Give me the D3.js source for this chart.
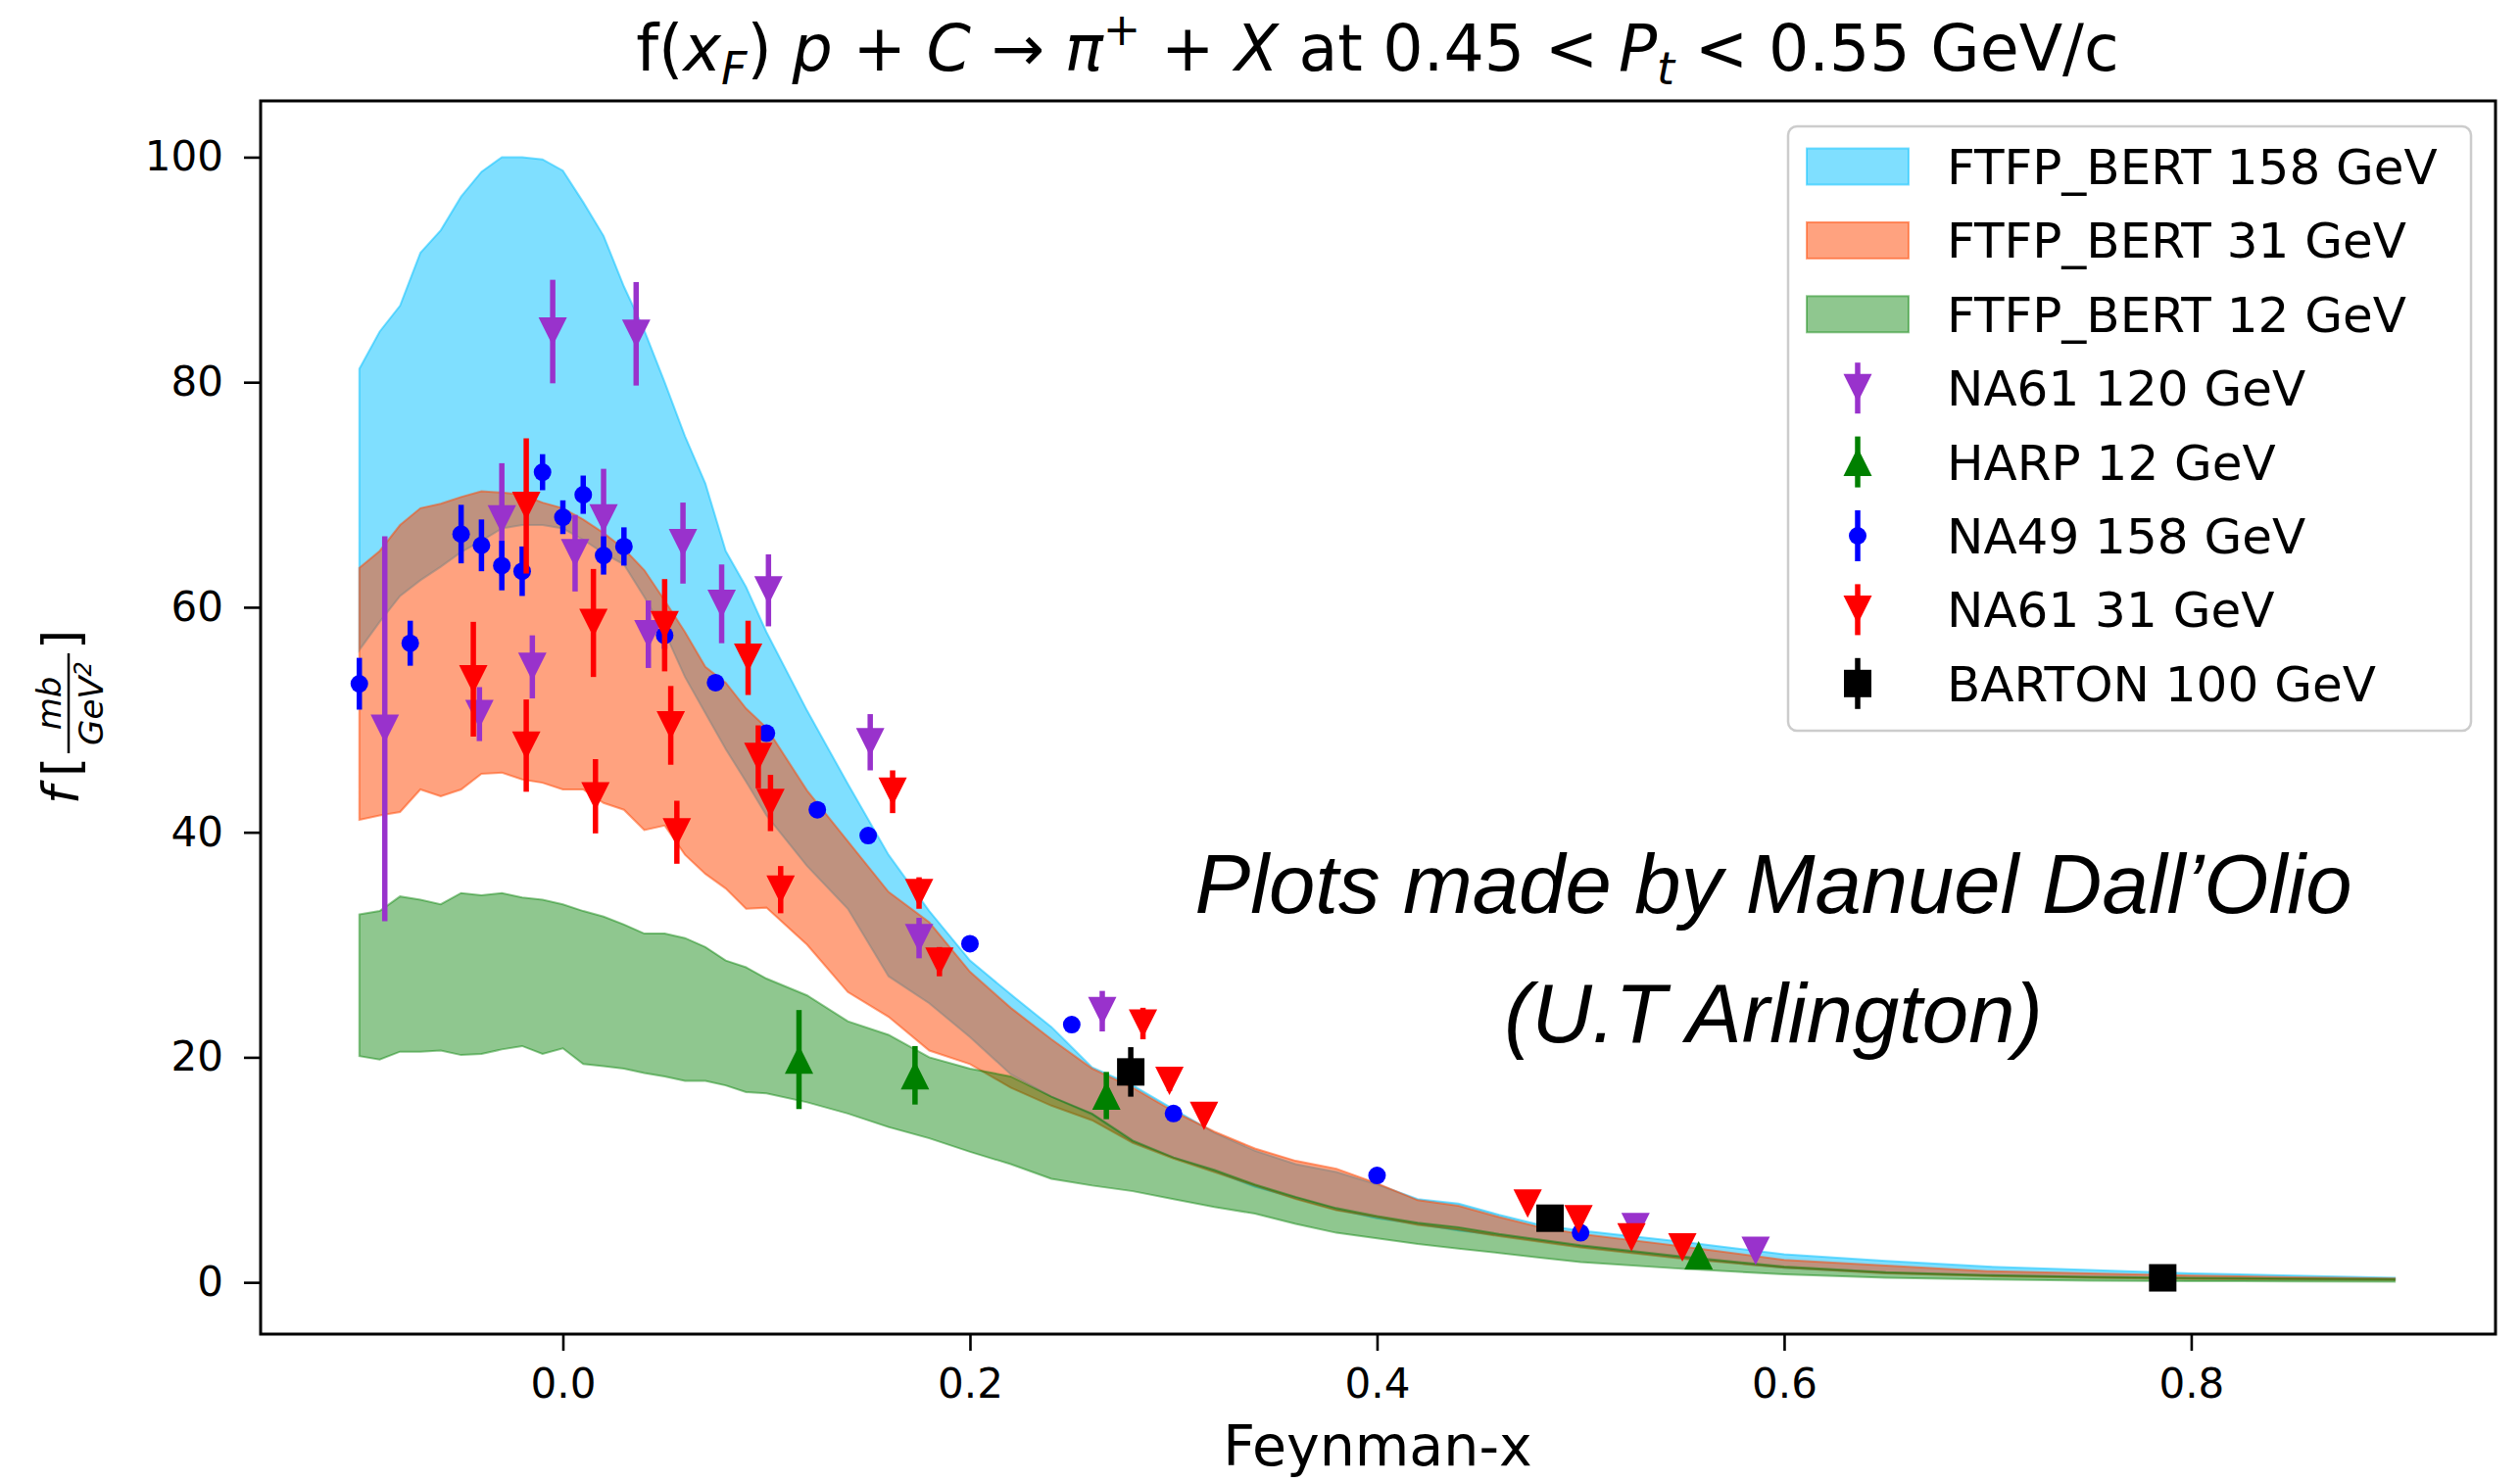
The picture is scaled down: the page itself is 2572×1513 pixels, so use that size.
<!DOCTYPE html>
<html><head><meta charset="utf-8">
<script src="https://cdn.jsdelivr.net/npm/d3@7"></script>
<style>
html,body{margin:0;padding:0;background:#fff;}
svg{display:block;font-family:"DejaVu Sans",sans-serif;}
</style></head><body>
<svg id="chart" width="2572" height="1513"></svg>
<script>
// ---------------- data ----------------
const bandX = [-0.10,-0.09,-0.08,-0.07,-0.06,-0.05,-0.04,-0.03,-0.02,-0.01,0.00,0.01,0.02,0.03,0.04,0.05,0.06,0.07,0.08,0.09,0.10,
  0.12,0.14,0.16,0.18,0.20,0.22,0.24,0.26,0.28,0.30,0.32,0.34,0.36,0.38,0.40,0.42,0.44,0.46,0.48,0.50,0.55,0.60,0.65,0.70,0.75,0.80,0.85,0.90];
const ftfp158Hi = [81.2,84.5,86.8,91.5,93.5,96.5,98.7,100.0,100.0,99.8,98.8,96.0,93.0,88.5,84.6,80.0,75.2,71.0,65.0,61.8,57.8,
  50.8,44.3,38.0,33.0,28.6,25.6,22.7,19.1,17.5,15.4,13.3,11.7,10.5,9.8,8.7,7.4,7.0,6.0,5.1,4.6,3.6,2.5,1.9,1.4,1.1,0.8,0.6,0.4];
const ftfp158Lo = [56.2,58.7,61.0,62.4,63.6,64.9,65.9,67.0,67.3,67.3,67.0,66.0,64.8,63.8,60.9,57.8,53.8,50.6,47.4,44.5,41.5,
  37.0,33.2,27.2,24.8,21.8,18.5,16.5,14.9,12.5,11.1,9.9,8.5,7.5,6.5,5.7,5.2,4.6,4.2,3.7,3.2,2.2,1.3,0.85,0.6,0.45,0.35,0.3,0.25];
const ftfp31Hi = [63.5,65.0,67.3,68.8,69.2,69.8,70.3,70.2,70.0,69.3,68.8,67.8,66.6,65.2,63.3,60.6,57.8,54.7,53.3,51.0,49.3,
  43.7,39.2,34.7,32.0,27.6,24.4,21.6,19.0,17.3,15.2,13.4,11.9,10.8,10.1,8.8,7.3,6.8,5.8,4.9,4.3,3.2,2.0,1.5,1.0,0.8,0.6,0.45,0.35];
const ftfp31Lo = [41.1,41.5,41.8,43.8,43.2,43.8,45.2,45.3,44.7,44.4,43.8,43.8,42.6,42.0,40.2,40.6,38.0,36.3,35.0,33.2,33.3,
  30.0,25.8,23.6,20.6,19.4,17.3,15.7,14.4,12.4,11.0,9.8,8.6,7.4,6.4,5.8,5.1,4.7,4.1,3.6,3.1,2.1,1.3,0.8,0.55,0.4,0.3,0.25,0.2];
const ftfp12Hi = [32.7,33.0,34.3,34.0,33.6,34.6,34.4,34.6,34.2,34.0,33.6,33.0,32.5,31.8,31.0,31.0,30.6,29.8,28.6,28.0,27.0,
  25.5,23.2,22.0,20.0,19.0,18.3,16.5,15.0,12.6,11.1,10.0,8.7,7.6,6.6,5.9,5.3,4.9,4.3,3.8,3.3,2.3,1.4,0.9,0.65,0.5,0.4,0.35,0.3];
const ftfp12Lo = [20.1,19.8,20.5,20.5,20.6,20.2,20.3,20.7,21.0,20.3,20.8,19.4,19.2,19.0,18.6,18.3,17.9,17.9,17.5,16.9,16.8,
  16.0,15.0,13.8,12.8,11.6,10.5,9.2,8.6,8.1,7.4,6.7,6.1,5.2,4.4,3.9,3.4,3.0,2.6,2.2,1.8,1.2,0.7,0.4,0.25,0.15,0.1,0.08,0.05];

const na61_120X = [-0.0875,-0.041,-0.030,-0.015,-0.005,0.006,0.020,0.036,0.042,0.059,0.078,0.101,0.151,0.175,0.265,0.527,0.586];
const na61_120Y = [49.2,50.5,67.8,54.7,84.5,64.8,67.9,84.3,57.6,65.7,60.3,61.5,48.0,30.6,24.1,4.9,2.8];
const na61_120Err = [17.1,2.4,5.0,2.8,4.6,3.4,4.4,4.6,3.0,3.6,3.5,3.2,2.5,1.8,1.8,0.5,0.4];

const harpX = [0.116,0.173,0.267,0.558];
const harpY = [19.8,18.4,16.6,2.4];
const harpErr = [4.4,2.6,2.1,0.4];

const na49X = [-0.100,-0.075,-0.050,-0.040,-0.030,-0.020,-0.010,0.000,0.010,0.020,0.030,0.050,0.075,0.100,0.125,0.150,0.200,0.250,0.300,0.400,0.500];
const na49Y = [53.2,56.8,66.5,65.5,63.7,63.2,72.0,68.0,70.0,64.6,65.4,57.5,53.3,48.8,42.0,39.7,30.1,22.9,15.0,9.5,4.4];
const na49Err = [2.3,2.0,2.6,2.3,2.2,2.2,1.6,1.5,1.7,1.7,1.7,1.2,0.6,0.5,0.5,0.4,0.4,0.3,0.3,0.2,0.2];

const na61_31X = [-0.044,-0.018,-0.018,0.015,0.016,0.050,0.053,0.056,0.091,0.096,0.102,0.107,0.162,0.175,0.185,0.285,0.298,0.315,0.474,0.499,0.525,0.550];
const na61_31Y = [53.6,69.0,47.7,58.6,43.2,58.4,49.5,40.0,55.5,46.7,42.6,34.9,43.6,34.6,28.5,23.0,17.9,14.8,7.0,5.6,4.0,3.1];
const na61_31Err = [5.1,6.0,4.1,4.8,3.3,4.1,3.5,2.8,3.3,2.8,2.5,2.1,1.9,1.4,1.3,1.4,0.9,0.7,0.6,0.6,0.5,0.4];

const bartonX = [0.279,0.485,0.786];
const bartonY = [18.7,5.7,0.4];
const bartonErr = [2.2,0.4,0.3];

const xTicks = [0.0,0.2,0.4,0.6,0.8];
const yTicks = [0,20,40,60,80,100];

const bandNames = ["FTFP_BERT 158 GeV","FTFP_BERT 31 GeV","FTFP_BERT 12 GeV"];
const pointNames = ["NA61 120 GeV","HARP 12 GeV","NA49 158 GeV","NA61 31 GeV","BARTON 100 GeV"];

// ---------------- layout ----------------
const svg = d3.select("#chart");
const P = {left:266, right:2547, top:103, bottom:1362};
const x = d3.scaleLinear().domain([-0.1485, 0.9495]).range([P.left, P.right]);
const y = d3.scaleLinear().domain([-4.6, 105.0]).range([P.bottom, P.top]);

svg.append("rect").attr("width",2572).attr("height",1513).attr("fill","#fff");

// bands
const bands = [
  {lo:ftfp158Lo, hi:ftfp158Hi, color:"rgb(0,191,255)", a:0.5},
  {lo:ftfp31Lo,  hi:ftfp31Hi,  color:"rgb(255,69,0)",  a:0.5},
  {lo:ftfp12Lo,  hi:ftfp12Hi,  color:"rgb(0,128,0)",   a:0.44}
];
const area = d3.area().x(d=>x(d.x)).y0(d=>y(d.lo)).y1(d=>y(d.hi));
bands.forEach(b=>{
  const pts = bandX.map((v,i)=>({x:v, lo:b.lo[i], hi:b.hi[i]}));
  svg.append("path").attr("d", area(pts))
    .attr("fill", b.color).attr("fill-opacity", b.a)
    .attr("stroke", b.color).attr("stroke-opacity", b.a).attr("stroke-width", 2);
});

// markers
const S = 14.5;
function drawMarker(g, shape, cx, cy, color){
  if (shape==="v") {
    g.append("path").attr("d",`M${cx-S},${cy-S}L${cx+S},${cy-S}L${cx},${cy+S}Z`).attr("fill",color);
  } else if (shape==="^") {
    g.append("path").attr("d",`M${cx-S},${cy+S}L${cx+S},${cy+S}L${cx},${cy-S}Z`).attr("fill",color);
  } else if (shape==="o") {
    g.append("circle").attr("cx",cx).attr("cy",cy).attr("r",9).attr("fill",color);
  } else if (shape==="s") {
    g.append("rect").attr("x",cx-14).attr("y",cy-14).attr("width",28).attr("height",28).attr("fill",color);
  }
}
const series = [
  {X:na61_120X, Y:na61_120Y, E:na61_120Err, shape:"v", color:"#9932CC"},
  {X:harpX, Y:harpY, E:harpErr, shape:"^", color:"#008000"},
  {X:na49X, Y:na49Y, E:na49Err, shape:"o", color:"#0000FF"},
  {X:na61_31X, Y:na61_31Y, E:na61_31Err, shape:"v", color:"#FF0000"},
  {X:bartonX, Y:bartonY, E:bartonErr, shape:"s", color:"#000000"}
];
series.forEach(s=>{
  const g = svg.append("g");
  s.X.forEach((xv,i)=>{
    g.append("line").attr("x1",x(xv)).attr("x2",x(xv))
      .attr("y1",y(s.Y[i]-s.E[i])).attr("y2",y(s.Y[i]+s.E[i]))
      .attr("stroke",s.color).attr("stroke-width",5.5);
    drawMarker(g, s.shape, x(xv), y(s.Y[i]), s.color);
  });
});

// frame
svg.append("rect").attr("x",P.left).attr("y",P.top).attr("width",P.right-P.left).attr("height",P.bottom-P.top)
  .attr("fill","none").attr("stroke","#000").attr("stroke-width",3);

// axes
const xAxis = svg.append("g").attr("transform",`translate(0,${P.bottom})`)
  .call(d3.axisBottom(x).tickValues(xTicks).tickFormat(d3.format(".1f")).tickSize(17).tickPadding(18));
const yAxis = svg.append("g").attr("transform",`translate(${P.left},0)`)
  .call(d3.axisLeft(y).tickValues(yTicks).tickFormat(d3.format("d")).tickSize(17).tickPadding(21));
[xAxis,yAxis].forEach(a=>{
  a.select(".domain").remove();
  a.selectAll(".tick line").attr("stroke","#000").attr("stroke-width",2.6);
  a.selectAll(".tick text").attr("fill","#000").style("font-size","42px").style("font-family","DejaVu Sans");
});

// axis labels
svg.append("text").attr("x",1406).attr("y",1496).attr("text-anchor","middle")
  .style("font-size","57px").text("Feynman-x");

const yl = svg.append("g").attr("transform","translate(80,731) rotate(-90)");
yl.append("text").attr("x",-90).attr("y",0).style("font-size","52px").style("font-style","italic").text("f");
yl.append("text").attr("x",-62).attr("y",0).style("font-size","52px").text("[");
yl.append("line").attr("x1",-38).attr("x2",64).attr("y1",-10).attr("y2",-10).attr("stroke","#000").attr("stroke-width",2.5);
yl.append("text").attr("x",13).attr("y",-18).attr("text-anchor","middle").style("font-size","34px").style("font-style","italic").text("mb");
const den = yl.append("text").attr("x",13).attr("y",25).attr("text-anchor","middle").style("font-size","34px").style("font-style","italic");
den.append("tspan").text("GeV");
den.append("tspan").attr("dy",-12).style("font-size","24px").text("2");
yl.append("text").attr("x",68).attr("y",0).style("font-size","52px").text("]");

// title
const t = svg.append("text").attr("x",1406).attr("y",72).attr("text-anchor","middle").style("font-size","65px");
const NB = "\u00A0";
const parts = [
  {s:"f("},
  {s:"x", i:1},
  {s:"F", i:1, sz:46, dy:14},
  {s:")", dy:-14},
  {s:NB},
  {s:"p", i:1},
  {s:NB+"+"+NB},
  {s:"C", i:1},
  {s:NB+"\u2192"+NB},
  {s:"\u03C0", i:1},
  {s:"+", sz:46, dy:-26},
  {s:NB+"+"+NB, dy:26},
  {s:"X", i:1},
  {s:NB+"at"+NB+"0.45"+NB+"<"+NB},
  {s:"P", i:1},
  {s:"t", i:1, sz:46, dy:14},
  {s:NB+"<"+NB+"0.55"+NB+"GeV/c", dy:-14}
];
parts.forEach(p=>{
  const ts = t.append("tspan").text(p.s);
  if (p.i) ts.style("font-style","italic");
  if (p.sz) ts.style("font-size",p.sz+"px");
  if (p.dy) ts.attr("dy",p.dy);
});

// legend
const L = svg.append("g");
L.append("rect").attr("x",1825).attr("y",129).attr("width",697).attr("height",617).attr("rx",9)
  .attr("fill","#fff").attr("fill-opacity",0.8).attr("stroke","#cccccc").attr("stroke-width",2.5);
const rowY = k => 170 + 75.4*k;
bands.forEach((b,k)=>{
  L.append("rect").attr("x",1844).attr("y",rowY(k)-18.5).attr("width",104).attr("height",37)
    .attr("fill",b.color).attr("fill-opacity",b.a).attr("stroke",b.color).attr("stroke-opacity",b.a).attr("stroke-width",2);
  L.append("text").attr("x",1987).attr("y",rowY(k)+18).style("font-size","50px").text(bandNames[k]);
});
series.forEach((s,j)=>{
  const k = j+3, cy = rowY(k);
  L.append("line").attr("x1",1896).attr("x2",1896).attr("y1",cy-26).attr("y2",cy+26)
    .attr("stroke",s.color).attr("stroke-width",5.5);
  drawMarker(L, s.shape, 1896, cy, s.color);
  L.append("text").attr("x",1987).attr("y",cy+18).style("font-size","50px").text(pointNames[j]);
});

// annotation
const ann = svg.append("g").style("font-family","'Liberation Sans', Arial, sans-serif")
  .style("font-style","italic").style("font-size","85px").attr("text-anchor","middle");
ann.append("text").attr("x",1810).attr("y",932).text("Plots made by Manuel Dall\u2019Olio");
ann.append("text").attr("x",1810).attr("y",1064).text("(U.T Arlington)");
</script>
</body></html>
